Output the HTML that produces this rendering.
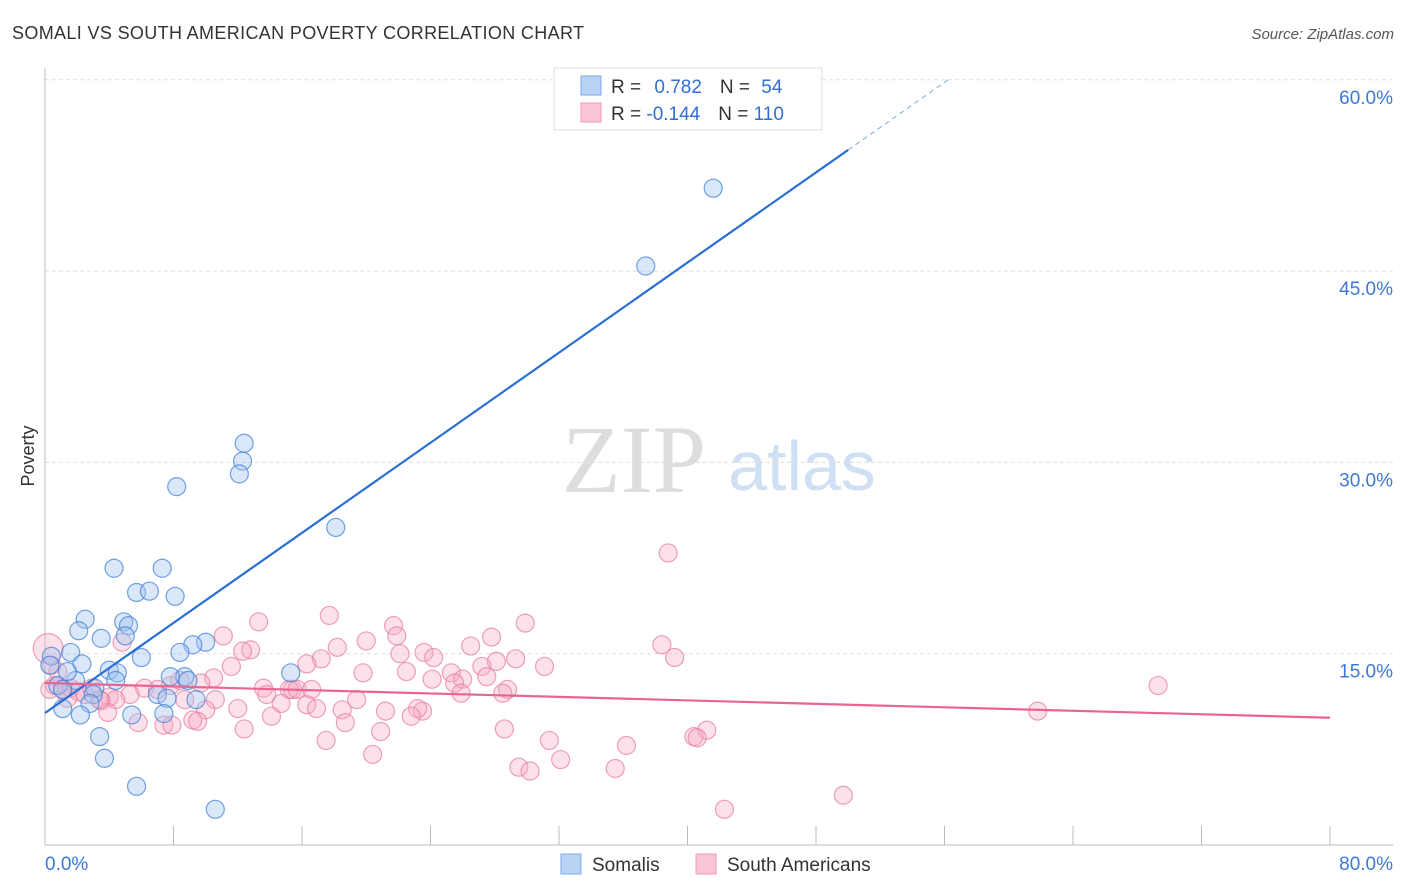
<!DOCTYPE html>
<html><head><meta charset="utf-8"><style>
body{margin:0;background:#fff;font-family:"Liberation Sans",sans-serif;}
#wrap{position:relative;width:1406px;height:892px;overflow:hidden}
svg text{font-family:"Liberation Sans",sans-serif}
</style></head><body>
<div id="wrap">
<svg id="s" width="1406" height="892" xmlns="http://www.w3.org/2000/svg">
<text x="12" y="39" font-size="18" fill="#333" textLength="572">SOMALI VS SOUTH AMERICAN POVERTY CORRELATION CHART</text>
<text x="1394" y="39" font-size="15" fill="#555" text-anchor="end" font-style="italic">Source: ZipAtlas.com</text>
<text x="634" y="492" font-size="96" fill="#ddd" style="font-family:'Liberation Serif',serif" text-anchor="middle">ZIP</text>
<text x="802" y="490" font-size="70" fill="#cfe0f4" text-anchor="middle">atlas</text>
<text x="34" y="456" font-size="18" fill="#333" transform="rotate(-90 34 456)" text-anchor="middle">Poverty</text>
<g id="grid"></g><g id="pts"></g><g id="lines"></g>
<g>
<rect x="554" y="68" width="268" height="62" fill="#fff" stroke="#ddd"/>
<rect x="581" y="76" width="20" height="19" fill="#b9d3f5" stroke="#7aa8e6"/>
<rect x="581" y="103" width="20" height="19" fill="#f9c6d5" stroke="#eb99b2"/>
<text x="611" y="93" font-size="19" fill="#333">R = <tspan fill="#2f6fd6" dx="8">0.782</tspan><tspan fill="#333" dx="18">N = </tspan><tspan fill="#2f6fd6" dx="6">54</tspan></text>
<text x="611" y="120" font-size="19" fill="#333">R = <tspan fill="#2f6fd6">-0.144</tspan><tspan fill="#333" dx="18">N = </tspan><tspan fill="#2f6fd6">110</tspan></text>
</g>
<g>
<rect x="561" y="854" width="20" height="20" fill="#b9d3f5" stroke="#7aa8e6"/>
<text x="592" y="871" font-size="19" fill="#333">Somalis</text>
<rect x="696" y="854" width="20" height="20" fill="#f9c6d5" stroke="#eb99b2"/>
<text x="727" y="871" font-size="19" fill="#333">South Americans</text>
</g>
</svg></div>
<script>
const xTicks=[0,8,16,24,32,40,48,56,64,72,80];
const yTicks=[15,30,45,60];
const blueX=[41.6,37.4,12.4,12.3,12.1,8.2,18.1,4.3,7.3,5.7,6.5,8.1,2.5,4.9,5.2,5.0,2.1,3.5,10.0,9.2,6.0,8.4,1.6,0.4,2.3,4.0,4.5,15.3,8.7,7.8,8.9,1.9,4.4,0.8,3.1,1.1,3.0,7.0,7.6,9.4,2.8,1.1,5.4,2.2,7.4,3.4,3.7,5.7,10.6,0.3,1.4];
const blueY=[51.5,45.4,31.5,30.1,29.1,28.1,24.9,21.7,21.7,19.8,19.9,19.5,17.7,17.5,17.2,16.4,16.8,16.2,15.9,15.7,14.7,15.1,15.1,14.8,14.2,13.7,13.5,13.5,13.2,13.2,12.9,12.9,12.9,12.5,12.3,12.2,11.8,11.8,11.5,11.4,11.1,10.7,10.2,10.2,10.3,8.5,6.8,4.6,2.8,14.1,13.6];
const pinkX=[0.2,38.8,17.7,29.9,21.7,13.3,4.8,11.1,21.9,27.8,20.0,18.2,26.5,38.4,12.8,12.3,23.6,22.1,24.2,39.2,29.3,17.2,16.3,28.1,31.1,11.6,27.2,22.5,25.3,19.8,27.5,10.5,24.1,26.0,8.4,25.5,69.3,13.6,15.4,15.2,15.7,16.6,9.7,7.8,6.2,7.0,28.8,25.9,28.5,13.8,5.3,4.0,4.4,3.5,8.7,10.6,19.4,14.7,16.3,16.9,12.0,18.5,10.0,21.2,23.5,23.2,61.8,3.9,14.1,22.8,9.2,9.5,5.8,7.4,7.9,18.7,12.4,28.6,20.9,41.2,40.4,40.6,17.5,31.4,36.2,20.4,32.1,29.5,30.2,35.5,49.7,42.3,0.4,0.8,0.6,1.1,1.6,2.1,2.5,1.4,2.9,3.4,0.3];
const pinkY=[15.4,22.9,18.0,17.4,17.2,17.5,15.9,16.4,16.4,16.3,16.0,15.5,15.6,15.7,15.3,15.2,15.1,15.0,14.7,14.7,14.6,14.6,14.2,14.4,14.0,14.0,14.0,13.6,13.5,13.5,13.2,13.1,13.0,13.0,12.9,12.7,12.5,12.3,12.2,12.2,12.2,12.2,12.7,12.5,12.3,12.2,12.2,11.9,11.9,11.8,11.8,11.6,11.4,11.3,11.4,11.4,11.4,11.1,11.0,10.7,10.7,10.6,10.6,10.5,10.5,10.7,10.5,10.4,10.1,10.1,9.8,9.7,9.6,9.4,9.4,9.6,9.1,9.1,8.9,9.0,8.5,8.4,8.2,8.2,7.8,7.1,6.7,6.1,5.8,6.0,3.9,2.8,14.1,13.6,12.5,12.2,12.3,12.0,11.8,11.5,12.3,11.4,12.2];
const blueFit=[10.35,0.883];
const pinkFit=[12.7,-0.034];
const X=v=>45+v/80*1285, Y=v=>845-v/15*191.3;
const NS="http://www.w3.org/2000/svg";
function mk(tag,attrs,parent){const e=document.createElementNS(NS,tag);for(const k in attrs)e.setAttribute(k,attrs[k]);parent.appendChild(e);return e;}
const grid=document.getElementById('grid');
for(const t of yTicks){
 const l=mk('line',{x1:45,x2:1393,y1:Y(t),y2:Y(t),stroke:'#ddd','stroke-dasharray':'4,3'},grid);
 
 
 const tx=mk('text',{x:1393,y:Y(t)+24,'font-size':19,fill:'#3b78d8','text-anchor':'end'},grid);
 tx.textContent=t.toFixed(1)+'%';
 
 
}
mk('line',{x1:45,x2:45,y1:68,y2:845,stroke:'#bbb'},grid);
mk('line',{x1:45,x2:1393,y1:845,y2:845,stroke:'#bbb'},grid);
for(const t of xTicks){
 const tk=mk('line',{x1:X(t),x2:X(t),y1:826,y2:845,stroke:'#bbb'},grid);
 
 
}
const xl=mk('text',{x:45,y:870,'font-size':19,fill:'#3b78d8'},grid);xl.textContent=xTicks[0].toFixed(1)+'%';


const xr=mk('text',{x:1393,y:870,'font-size':19,fill:'#3b78d8','text-anchor':'end'},grid);xr.textContent=xTicks[xTicks.length-1].toFixed(1)+'%';


const pts=document.getElementById('pts');
pinkX.forEach((x,i)=>{const c=mk('circle',{cx:X(x),cy:Y(pinkY[i]),r:i==0?15:9,fill:'rgba(246,170,195,0.35)',stroke:'rgba(232,130,162,0.75)','stroke-width':1.2},pts);
 
 });
blueX.forEach((x,i)=>{const c=mk('circle',{cx:X(x),cy:Y(blueY[i]),r:9,fill:'rgba(160,196,240,0.4)',stroke:'rgba(70,130,215,0.75)','stroke-width':1.2},pts);
 
 });
const lines=document.getElementById('lines');
const fb=x=>blueFit[0]+blueFit[1]*x, fp=x=>pinkFit[0]+pinkFit[1]*x;
const bl=mk('line',{x1:X(0),y1:Y(fb(0)),x2:X(50),y2:Y(fb(50)),stroke:'#2a6fd6','stroke-width':2.2},lines);


const xe=(60-blueFit[0])/blueFit[1];
const bd=mk('line',{x1:X(50),y1:Y(fb(50)),x2:X(xe),y2:Y(60),stroke:'#8fb4e8','stroke-width':1.2,'stroke-dasharray':'5,4'},lines);


const pl=mk('line',{x1:X(0),y1:Y(fp(0)),x2:X(80),y2:Y(fp(80)),stroke:'#e8658f','stroke-width':2.2},lines);


</script>
</body></html>
